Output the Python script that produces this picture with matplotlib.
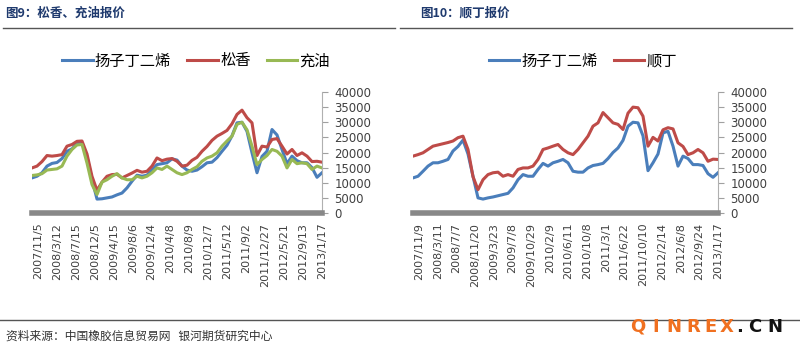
import numpy as np
import matplotlib
matplotlib.use("Agg")
import matplotlib.pyplot as plt

plt.rcParams['font.family'] = ['DejaVu Sans', 'Noto Sans CJK SC']

# 图9 data (weekly quotes, yuan/ton)
left_labels = ['2007/11/5', '2008/3/12', '2008/7/15', '2008/12/5', '2009/4/15', '2009/8/6',
               '2009/12/4', '2010/4/8', '2010/8/9', '2010/12/7', '2011/5/12', '2011/9/2',
               '2011/12/27', '2012/5/21', '2012/9/13', '2013/1/17']
yangzi_1 = [11600, 12150, 13300, 15500, 16400, 16700, 18000, 20400, 21200, 23000,
            23200, 18500, 11000, 4600, 4700, 5000, 5300, 6000, 6600, 8300,
            10500, 12500, 12150, 12500, 14300, 16000, 16300, 16600, 17900, 17500,
            15500, 14200, 13800, 14200, 15300, 16600, 16800, 18300, 20400, 22400,
            25500, 29800, 30000, 27000, 19900, 13300, 18700, 20400, 27600, 25800,
            21000, 16300, 18800, 17300, 16600, 16600, 15000, 11800, 13300]
songxiang = [14900, 15500, 17000, 19000, 18800, 19000, 19300, 22100, 22650, 23700,
             23800, 19500, 12150, 7500, 10200, 12150, 12700, 12800, 11600, 12400,
             13200, 14100, 13500, 13800, 15500, 18200, 17300, 17800, 18000, 17100,
             15500, 15800, 17400, 18400, 20400, 22000, 24000, 25400, 26300, 27300,
             29500, 32600, 34000, 31500, 29800, 19000, 22100, 21800, 24300, 24600,
             22100, 19500, 21000, 19000, 19900, 18800, 17000, 17100, 16800]
chongyou = [12400, 12600, 13000, 14200, 14400, 14600, 15500, 18800, 21000, 22500,
            22650, 16500, 9400, 6100, 10200, 11000, 12150, 13000, 11600, 11000,
            11000, 12150, 11600, 12150, 13300, 14900, 14400, 15500, 14400, 13300,
            12700, 13300, 14400, 15300, 17100, 18200, 18800, 19900, 22100, 23800,
            25400, 29300, 30000, 27500, 22100, 16000, 17700, 19000, 21000, 20400,
            18800, 14900, 17700, 16300, 16600, 16300, 14400, 15500, 14900]

# 图10 data
right_labels = ['2007/11/9', '2008/3/11', '2008/7/7', '2008/11/20', '2009/3/23', '2009/7/8',
                '2009/10/29', '2010/2/9', '2010/6/11', '2010/10/8', '2011/3/1', '2011/6/22',
                '2011/10/10', '2012/2/14', '2012/6/8', '2012/9/24', '2013/1/17']
yangzi_2 = [11600, 12150, 13800, 15500, 16600, 16600, 17100, 17700, 20500, 22000,
            24100, 19500, 12150, 5000, 4600, 5000, 5300, 5700, 6100, 6500,
            8300, 11000, 12700, 12150, 12150, 14400, 16400, 15500, 16600, 17100,
            17700, 16600, 13800, 13500, 13500, 14900, 15700, 16000, 16400, 18000,
            20000, 21500, 24000, 28700, 30000, 29800, 25500, 14000, 16600, 19500,
            26500, 27000, 22100, 15500, 18800, 18000, 16000, 16000, 15700, 13000,
            11800, 13300]
shunding = [18800, 19300, 19900, 21000, 22100, 22500, 22900, 23300, 23800, 24900,
            25400, 21000, 12000, 7700, 11000, 12700, 13300, 13500, 12150, 12700,
            12150, 14400, 14900, 14900, 15500, 17700, 21000, 21500, 22100, 22650,
            21000, 19900, 19300, 21000, 23200, 25400, 28700, 29800, 33200, 31500,
            29800, 29300, 27600, 33000, 35000, 34800, 32000, 22100, 25000, 23800,
            27500, 28200, 27800, 23200, 22000, 19300, 19900, 21000, 19900, 17100,
            17800, 17700]

BLUE = '#4a7ebb'
RED = '#be4b48'
GREEN = '#98b954'
NAVY = '#1f3a6e'

W, H = 800, 349
fig = plt.figure(figsize=(8, 3.49), dpi=100)


def setup(ax, labels, n):
    ax.set_xlim(0, n - 1)
    ax.set_ylim(0, 40000)
    ax.set_yticks(np.arange(0, 40001, 5000))
    ax.yaxis.tick_right()
    ax.tick_params(axis='y', direction='out', length=4, color='#a0a0a0',
                   labelsize=8.5, labelcolor='#404040', pad=5)
    ax.set_xticks(np.linspace(1.2, n - 1, len(labels)))
    ax.set_xticklabels(labels, rotation=90)
    ax.tick_params(axis='x', length=0, labelsize=8, labelcolor='#404040', pad=7)
    for s in ['top', 'left']:
        ax.spines[s].set_visible(False)
    ax.spines['right'].set_color('#b0b0b0')
    ax.spines['bottom'].set_color('#888888')
    ax.spines['bottom'].set_linewidth(4)


leg_kw = dict(loc='center', frameon=False, handlelength=2.0, handletextpad=0.15,
              columnspacing=1.05, prop={'family': ['Noto Sans CJK SC'], 'size': 11})

# left panel
ax1 = fig.add_axes([32 / W, 1 - 213 / H, 290 / W, 121 / H])
x1 = np.arange(len(songxiang))
l1, = ax1.plot(x1, yangzi_1, color=BLUE, lw=2.2, label='扬子丁二烯')
l2, = ax1.plot(x1, songxiang, color=RED, lw=2.2, label='松香')
l3, = ax1.plot(x1, chongyou, color=GREEN, lw=2.2, label='充油')
setup(ax1, left_labels, len(songxiang))
fig.legend(handles=[l1, l2, l3], bbox_to_anchor=(196 / W, 1 - 61 / H), ncol=3, **leg_kw)

# right panel
ax2 = fig.add_axes([413 / W, 1 - 213 / H, 305 / W, 121 / H])
x2 = np.arange(len(shunding))
r1, = ax2.plot(x2, yangzi_2, color=BLUE, lw=2.2, label='扬子丁二烯')
r2, = ax2.plot(x2, shunding, color=RED, lw=2.2, label='顺丁')
setup(ax2, right_labels, len(shunding))
fig.legend(handles=[r1, r2], bbox_to_anchor=(583 / W, 1 - 61 / H), ncol=2, **leg_kw)

# titles and rules
fig.text(5 / W, 1 - 13 / H, '图9：松香、充油报价', fontsize=9, fontweight='bold',
         color=NAVY, va='center', family=['Noto Sans CJK SC'])
fig.text(420 / W, 1 - 13 / H, '图10：顺丁报价', fontsize=9, fontweight='bold',
         color=NAVY, va='center', family=['Noto Sans CJK SC'])
fig.add_artist(plt.Line2D([3 / W, 395 / W], [1 - 28 / H] * 2, color='#555555', lw=1))
fig.add_artist(plt.Line2D([400 / W, 792 / W], [1 - 28 / H] * 2, color='#555555', lw=1))
fig.add_artist(plt.Line2D([0, 1], [1 - 320 / H] * 2, color='#555555', lw=1))

fig.text(6 / W, 1 - 336 / H, '资料来源：中国橡胶信息贸易网   银河期货研究中心', fontsize=8.5,
         color='#333333', va='center', family=['Noto Sans CJK SC'])

# watermark, letter by letter to get the wide tracking
wm_chars = ['Q', 'I', 'N', 'R', 'E', 'X', '.', 'C', 'N']
wm_x = [637.5, 655.5, 673.5, 693.5, 711, 726.5, 739.5, 755, 774.5]
for ch, xx in zip(wm_chars, wm_x):
    col = '#f07020' if xx < 735 else '#111111'
    fig.text(xx / W, 1 - 327 / H, ch, fontsize=13, fontweight='bold', color=col,
             ha='center', va='center')

fig.savefig('out.png', dpi=100, facecolor='white')
